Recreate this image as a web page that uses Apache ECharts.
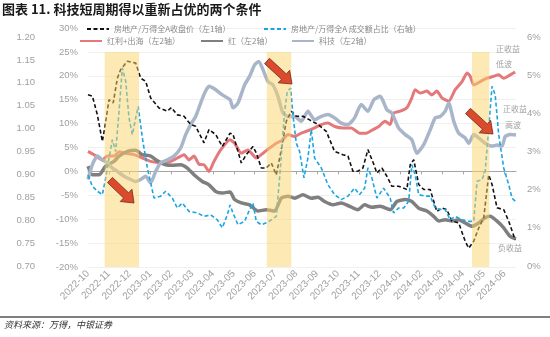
<!DOCTYPE html>
<html><head><meta charset="utf-8">
<script src="https://cdn.jsdelivr.net/npm/echarts/dist/echarts.min.js"></script>
<style>html,body{margin:0;padding:0;background:#fff}#c{width:550px;height:337px}</style>
</head><body><div id="c"></div>
<script>
// Time axis: months since 2022-10-01
const monthLabels = ['2022-10','2022-11','2022-12','2023-01','2023-02','2023-03','2023-04','2023-05','2023-06','2023-07','2023-08','2023-09','2023-10','2023-11','2023-12','2024-01','2024-02','2024-03','2024-04','2024-05','2024-06'];
const monthTicks = monthLabels.map((_, i) => i);

// 房地产/万得全A收盘价（左1轴）  [month, value]
const priceData = [[0,1.074],[0.21,1.071],[0.45,1.030],[0.69,0.972],[0.80,1.001],[1.01,1.063],[1.21,1.056],[1.41,1.110],[1.57,1.129],[1.89,1.147],[2.29,1.143],[2.53,1.110],[2.77,1.103],[3.01,1.067],[3.41,1.045],[3.81,1.038],[4.00,1.046],[4.29,1.030],[4.61,1.027],[4.93,1.009],[5.17,1.005],[5.57,0.969],[5.81,0.998],[6.13,0.987],[6.45,0.961],[6.82,0.990],[6.96,0.988],[7.36,0.925],[7.60,0.943],[7.92,0.961],[8.08,0.947],[8.32,0.914],[8.56,0.914],[8.80,0.925],[9.04,0.899],[9.28,0.954],[9.52,1.016],[9.76,1.038],[10.00,1.027],[10.32,1.027],[10.64,1.019],[11.04,1.009],[11.44,0.994],[11.84,0.950],[12.24,0.943],[12.48,0.940],[12.72,0.907],[12.96,0.907],[13.20,0.914],[13.44,0.954],[13.73,0.921],[13.87,0.903],[14.11,0.914],[14.35,0.896],[14.59,0.874],[14.91,0.874],[15.16,0.870],[15.31,0.867],[15.47,0.921],[15.64,0.932],[15.88,0.878],[16.12,0.867],[16.43,0.867],[16.75,0.819],[16.99,0.827],[17.23,0.823],[17.47,0.798],[17.80,0.794],[18.11,0.754],[18.28,0.739],[18.52,0.754],[18.76,0.783],[19.00,0.805],[19.24,0.899],[19.40,0.878],[19.64,0.827],[19.96,0.823],[20.20,0.798],[20.51,0.757]];

// 房地产/万得全A 成交额占比（右轴） %  [month, value]
const shareData = [[0,2.38],[0.21,2.09],[0.45,1.96],[0.69,1.87],[0.85,2.31],[1.01,2.83],[1.17,3.31],[1.33,3.00],[1.49,4.05],[1.65,5.19],[1.81,4.84],[1.97,3.88],[2.13,3.44],[2.29,3.88],[2.41,4.18],[2.61,3.35],[2.85,2.57],[3.17,1.78],[3.49,1.83],[3.73,1.96],[4.05,1.78],[4.29,1.52],[4.53,1.65],[4.85,1.43],[5.25,1.39],[5.57,1.30],[5.89,1.34],[6.21,1.21],[6.45,1.00],[6.69,1.34],[6.82,1.60],[6.96,1.39],[7.20,1.08],[7.52,1.17],[7.76,1.48],[7.92,1.65],[8.08,1.17],[8.32,1.08],[8.56,1.13],[8.80,1.21],[9.04,1.30],[9.20,2.31],[9.44,4.05],[9.57,4.58],[9.73,4.66],[9.84,3.96],[10.00,3.22],[10.16,3.00],[10.37,2.31],[10.56,2.83],[10.72,3.57],[10.88,2.83],[11.20,2.57],[11.52,2.13],[11.84,1.87],[12.16,1.74],[12.48,1.83],[12.80,2.04],[13.04,1.87],[13.28,2.04],[13.44,2.57],[13.63,2.31],[13.87,1.78],[14.19,2.04],[14.51,1.78],[14.67,1.39],[14.91,1.52],[15.16,1.52],[15.40,1.70],[15.55,2.65],[15.71,2.39],[15.88,1.87],[16.19,1.83],[16.43,1.83],[16.67,1.52],[16.91,1.48],[17.15,1.48],[17.39,1.21],[17.63,1.30],[17.96,1.21],[18.28,1.17],[18.52,1.17],[18.68,2.22],[18.92,2.26],[19.07,2.48],[19.24,3.62],[19.40,4.71],[19.55,4.49],[19.72,3.44],[19.96,2.57],[20.20,2.13],[20.36,1.78],[20.51,1.70]];

// 红利+出海（左2轴） %
const dividendData = [[0,4.2],[0.29,3.5],[0.69,2.4],[0.93,3.2],[1.25,3.2],[1.49,4.1],[1.81,3.8],[2.21,3.5],[2.61,2.8],[3.01,2.1],[3.49,1.8],[3.97,2.1],[4.29,2.8],[4.61,3.5],[4.85,2.4],[5.09,3.2],[5.33,1.5],[5.57,1.4],[5.81,0.0],[6.05,2.1],[6.37,4.5],[6.82,6.6],[7.04,5.9],[7.36,3.8],[7.68,4.5],[8.08,2.8],[8.40,3.8],[8.72,4.9],[9.04,5.9],[9.36,6.6],[9.60,7.7],[9.92,7.3],[10.24,8.0],[10.56,8.5],[10.88,9.1],[11.20,9.8],[11.52,10.1],[11.84,9.4],[12.24,9.1],[12.64,9.1],[13.04,8.0],[13.36,8.0],[13.63,8.6],[13.96,9.4],[14.26,10.5],[14.51,9.8],[14.67,12.2],[14.99,12.6],[15.31,13.3],[15.55,15.4],[15.71,17.1],[15.95,16.4],[16.27,16.8],[16.51,16.0],[16.75,16.8],[16.99,15.4],[17.32,14.7],[17.63,17.1],[17.96,18.8],[18.20,20.6],[18.35,19.9],[18.52,18.1],[18.84,18.8],[19.16,19.5],[19.48,19.9],[19.72,20.2],[19.96,19.5],[20.27,20.2],[20.51,20.8]];

// 红（左2轴） %
const redData = [[0,1.1],[0.21,-0.7],[0.53,-0.7],[0.85,1.1],[1.25,2.1],[1.49,3.2],[1.89,4.2],[2.29,4.4],[2.61,3.5],[3.01,3.2],[3.33,2.2],[3.73,1.4],[4.05,1.3],[4.45,1.4],[4.77,0.7],[5.09,-0.7],[5.49,-2.1],[5.81,-2.8],[6.13,-4.2],[6.45,-4.5],[6.82,-4.3],[7.04,-5.9],[7.36,-6.6],[7.76,-7.0],[8.16,-8.3],[8.56,-8.0],[8.96,-8.3],[9.28,-5.6],[9.60,-5.2],[9.92,-5.6],[10.32,-4.9],[10.72,-5.6],[11.04,-5.4],[11.36,-6.3],[11.76,-7.0],[12.16,-6.6],[12.56,-7.3],[12.96,-8.0],[13.28,-7.0],[13.63,-7.5],[14.03,-7.3],[14.51,-8.0],[14.83,-6.3],[15.23,-5.9],[15.55,-6.3],[15.88,-7.7],[16.27,-8.3],[16.60,-9.4],[16.84,-10.4],[17.15,-10.1],[17.47,-10.4],[17.80,-10.1],[18.11,-10.8],[18.44,-11.5],[18.76,-10.8],[19.07,-9.7],[19.31,-9.4],[19.64,-10.4],[19.96,-11.8],[20.27,-13.6],[20.55,-14.1]];

// 科技（左2轴） %
const techData = [[0,-1.7],[0.21,1.4],[0.45,3.2],[0.69,2.4],[0.93,1.8],[1.17,0.7],[1.41,0.0],[1.73,-1.0],[2.05,-1.7],[2.29,-2.1],[2.53,-1.7],[2.77,-1.0],[3.01,-2.4],[3.25,0.0],[3.49,1.8],[3.81,2.4],[4.13,3.2],[4.45,4.9],[4.69,7.7],[4.93,9.8],[5.17,11.5],[5.41,14.3],[5.60,16.4],[5.81,17.8],[6.13,17.1],[6.45,16.0],[6.82,15.0],[6.96,13.3],[7.20,14.3],[7.52,18.1],[7.76,19.9],[8.00,22.3],[8.20,23.0],[8.40,21.3],[8.64,18.8],[8.88,18.1],[9.12,15.7],[9.36,12.2],[9.60,11.5],[9.92,11.5],[10.24,10.5],[10.56,12.6],[10.88,10.8],[11.20,11.5],[11.52,11.9],[11.84,11.2],[12.16,10.1],[12.48,9.8],[12.80,11.2],[13.12,14.0],[13.44,12.6],[13.73,15.0],[14.03,15.7],[14.35,12.9],[14.59,12.2],[14.91,9.1],[15.23,7.7],[15.55,6.6],[15.79,3.8],[16.12,5.6],[16.43,8.7],[16.67,11.2],[16.91,11.5],[17.15,12.6],[17.32,14.3],[17.56,10.5],[17.80,8.0],[18.11,7.0],[18.28,5.9],[18.52,7.7],[18.76,7.0],[19.07,5.9],[19.40,5.3],[19.64,5.5],[19.88,5.3],[20.03,7.3],[20.27,7.7],[20.55,7.6]];

// Highlighted periods (months since 2022-10-01) and band top (left-2 axis, %)
const bandStart = [0.80, 8.59, 18.44];
const bandEnd = [2.45, 9.76, 19.27];
const bandTop = 25;

const names = ['房地产/万得全A收盘价（左1轴）','房地产/万得全A 成交额占比（右轴）','红利+出海（左2轴）','红（左2轴）','科技（左2轴）'];
const xMax = 20.55;

const chart = echarts.init(document.getElementById('c'), null, {renderer:'canvas'});
const axisGray = '#A6A6A6';
const lblFont = {color:'#A0A0A0', fontSize:9.5, fontFamily:'Liberation Sans, Arial, sans-serif'};

function arrow(x1,y1,x2,y2){
  const dx=x2-x1, dy=y2-y1, L=Math.hypot(dx,dy), ux=dx/L, uy=dy/L, px=-uy, py=ux;
  const hl=11, hw=8.5, sw=3.6;
  const bx=x2-ux*hl, by=y2-uy*hl;
  return {type:'polygon', z:100, shape:{points:[[x1+px*sw,y1+py*sw],[bx+px*sw,by+py*sw],[bx+px*hw,by+py*hw],[x2,y2],[bx-px*hw,by-py*hw],[bx-px*sw,by-py*sw],[x1-px*sw,y1-py*sw]]},
    style:{fill:'#DC4A2E', stroke:'#6E2A1C', lineWidth:0.8}};
}
function note(text,x,y){
  return {type:'text', left:x, top:y, z:100, style:{text, fill:'#A0A0A0', font:'8px "Noto Sans CJK SC", sans-serif'}};
}
function legendAt(name,textLeft,top){
  return {data:[name], left:textLeft-27, top, itemWidth:22, itemHeight:8, padding:0,
    itemStyle:{opacity:0},
    textStyle:{color:'#8A8A8A', fontSize:8, fontFamily:'"Noto Sans CJK SC", sans-serif'}};
}

const option = {
  animation:false,
  backgroundColor:'#fff',
  grid:[
    {left:88, right:34, top:37, bottom:71},
    {left:88, right:34, top:28, bottom:70}
  ],
  legend:[
    legendAt(names[0],113,25),
    legendAt(names[1],290,25),
    legendAt(names[2],106,37),
    legendAt(names[3],227,37),
    legendAt(names[4],318,37)
  ],
  xAxis:[
    {gridIndex:0, type:'value', min:0, max:xMax, axisLine:{show:false}, axisTick:{show:false}, splitLine:{show:false},
      axisLabel:{customValues:monthTicks, rotate:45, margin:6, fontSize:10, color:'#A0A0A0', fontFamily:'Liberation Sans, Arial, sans-serif', formatter:v=>monthLabels[Math.round(v)]}},
    {gridIndex:1, type:'value', min:0, max:xMax, axisLine:{onZero:true, lineStyle:{color:axisGray, width:1.2}},
      axisTick:{customValues:monthTicks, length:3, lineStyle:{color:axisGray}}, axisLabel:{show:false}, splitLine:{show:false}}
  ],
  yAxis:[
    {gridIndex:0, type:'value', position:'left', offset:45, min:0.70, max:1.20, interval:0.05,
      axisLine:{show:false}, axisTick:{show:false}, splitLine:{show:false},
      axisLabel:Object.assign({margin:8, formatter:v=>v.toFixed(2)}, lblFont)},
    {gridIndex:0, type:'value', position:'right', min:0, max:6, interval:1,
      axisLine:{show:false}, axisTick:{show:false}, splitLine:{show:false},
      axisLabel:Object.assign({margin:11, formatter:'{value}%'}, lblFont)},
    {gridIndex:1, type:'value', position:'left', min:-20, max:30, interval:5,
      axisLine:{show:false}, axisTick:{show:false}, splitLine:{show:true, lineStyle:{color:'#F0F0F0', width:1}},
      axisLabel:Object.assign({margin:10, formatter:'{value}%'}, lblFont)}
  ],
  series:[
    {name:names[2], type:'line', xAxisIndex:1, yAxisIndex:2, data:dividendData, symbol:'none', smooth:0.2, z:2,
      color:'#E4787B', lineStyle:{color:'#E4787B', width:3}},
    {name:names[3], type:'line', xAxisIndex:1, yAxisIndex:2, data:redData, symbol:'none', smooth:0.2, z:2,
      color:'#7F7F7F', lineStyle:{color:'#7F7F7F', width:3.5}},
    {name:names[4], type:'line', xAxisIndex:1, yAxisIndex:2, data:techData, symbol:'none', smooth:0.2, z:2,
      color:'#A9B6C9', lineStyle:{color:'#A9B6C9', width:3.5}},
    {name:names[0], type:'line', xAxisIndex:0, yAxisIndex:0, data:priceData, symbol:'none', z:3,
      color:'#111', lineStyle:{color:'#111', width:1.6, type:[4,2.5]}},
    {name:names[1], type:'line', xAxisIndex:0, yAxisIndex:1, data:shareData, symbol:'none', z:3,
      color:'#19A5E3', lineStyle:{color:'#19A5E3', width:1.6, type:[4,2.5]}},
    {type:'line', xAxisIndex:1, yAxisIndex:2, data:[], symbol:'none', z:10, silent:true,
      markArea:{silent:true, z:10, itemStyle:{color:'rgba(252,212,105,0.5)'},
        data:bandStart.map((s,i)=>[{xAxis:s, yAxis:-20},{xAxis:bandEnd[i], yAxis:bandTop}])}}
  ],
  graphic:[
    {type:'text', left:2, top:3, z:100, style:{text:'图表 11. 科技短周期得以重新占优的两个条件', fill:'#1a1a1a', font:'bold 13px "Noto Sans CJK SC", sans-serif'}},
    {type:'line', z:100, shape:{x1:0,y1:317,x2:550,y2:317}, style:{stroke:'#555', lineWidth:1.5}},
    {type:'text', left:4, top:320, z:100, style:{text:'资料来源：万得，中银证券', fill:'#333', font:'italic 9px "Noto Sans CJK SC", sans-serif'}},
    note('正收益',496,45), note('低波',496,60), note('正收益',503,105), note('高波',505,121), note('负收益',498,244),
    arrow(110,180,134,203), arrow(267,61,292,84), arrow(468,111,493,134)
  ]
};
chart.setOption(option);
</script></body></html>
